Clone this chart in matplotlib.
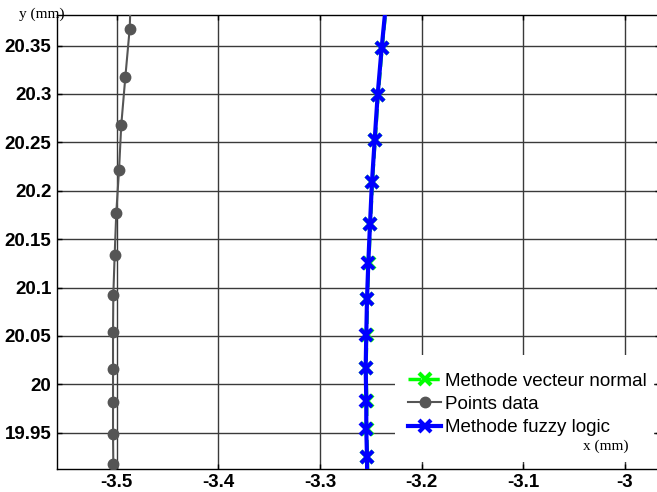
import matplotlib.pyplot as plt
from matplotlib.patches import Rectangle

# data (x, y in mm); first/last points lie outside the view
data_x = [-3.4855, -3.4872, -3.4915, -3.4955, -3.4977, -3.5004, -3.5020, -3.5033,
          -3.5036, -3.5036, -3.5036, -3.5036, -3.5033, -3.5033]
data_y = [20.42, 20.3676, 20.3173, 20.2680, 20.2212, 20.1772, 20.1334, 20.0925,
          20.0538, 20.0162, 19.9815, 19.9489, 19.9179, 19.88]

normal_x = [-3.2340, -3.2390, -3.2428, -3.2458, -3.2485, -3.2504, -3.2521, -3.2534,
            -3.2541, -3.2547, -3.2541, -3.2541, -3.2534, -3.2530]
normal_y = [20.40, 20.3473, 20.2992, 20.2528, 20.2092, 20.1662, 20.1257, 20.0878,
            20.0510, 20.0174, 19.9830, 19.9539, 19.9246, 19.89]

fuzzy_x = [-3.2345, -3.2394, -3.2433, -3.2462, -3.2489, -3.2508, -3.2525, -3.2538,
           -3.2545, -3.2551, -3.2545, -3.2545, -3.2538, -3.2535]
fuzzy_y = [20.40, 20.3473, 20.2992, 20.2528, 20.2092, 20.1662, 20.1257, 20.0878,
           20.0510, 20.0174, 19.9830, 19.9539, 19.9246, 19.89]

xticks = [-3.5, -3.4, -3.3, -3.2, -3.1, -3.0]
xtick_labels = ['-3.5', '-3.4', '-3.3', '-3.2', '-3.1', '-3']
yticks = [19.95, 20.0, 20.05, 20.1, 20.15, 20.2, 20.25, 20.3, 20.35]
ytick_labels = ['19.95', '20', '20.05', '20.1', '20.15', '20.2', '20.25', '20.3', '20.35']

fig = plt.figure(figsize=(6.57, 4.92), dpi=100)
ax = fig.add_axes([57 / 657, 23.3 / 492, 603 / 657, 453.4 / 492])

ax.set_axisbelow(True)
ax.grid(True, color='#3a3a3a', linewidth=1.0)

# white box behind the legend (hides the grid there)
ax.add_patch(Rectangle((0.56, 0.015), 0.43, 0.235, transform=ax.transAxes,
                       facecolor='white', edgecolor='none', zorder=1))

ax.plot(normal_x, normal_y, color='#00ff00', linestyle='--', linewidth=2.5,
        marker='x', markersize=9, markeredgewidth=3, label='Methode vecteur normal', zorder=2)
ax.plot(data_x, data_y, color='#555555', linewidth=1.5, marker='o', markersize=7.5,
        label='Points data', zorder=3)
ax.plot(fuzzy_x, fuzzy_y, color='#0000ff', linewidth=3, marker='x', markersize=9,
        markeredgewidth=3, label='Methode fuzzy logic', zorder=4)

ax.set_xlim(-3.5587, -2.9656)
ax.set_ylim(19.9129, 20.3813)
ax.set_xticks(xticks)
ax.set_xticklabels(xtick_labels)
ax.set_yticks(yticks)
ax.set_yticklabels(ytick_labels)

ax.tick_params(direction='in', length=3.6, width=1, top=True, right=True, pad=4)
for lab in ax.get_xticklabels() + ax.get_yticklabels():
    lab.set_fontfamily('Liberation Sans')
    lab.set_fontweight('bold')
    lab.set_fontsize(13.5)
for sp in ax.spines.values():
    sp.set_linewidth(1)
    sp.set_color('black')

leg = ax.legend(loc='upper left', bbox_to_anchor=(0.561, 0.241), frameon=False,
                prop={'family': 'Liberation Sans', 'size': 13.5}, handlelength=1.75,
                handletextpad=0.2, labelspacing=0.33, borderpad=0.2)
leg.set_zorder(5)

ax.text(0.91, 0.05, 'x (mm)', transform=ax.transAxes, ha='center', va='center',
        fontfamily='Liberation Serif', fontsize=11, zorder=6)
fig.text(42 / 657, 1 - 14 / 492, 'y (mm)', ha='center', va='center',
         fontfamily='Liberation Serif', fontsize=11)

fig.savefig('out.png', dpi=100)
